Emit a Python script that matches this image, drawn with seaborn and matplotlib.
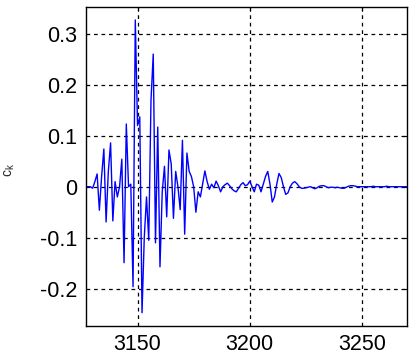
import numpy as np
import pandas as pd
import matplotlib
matplotlib.use("Agg")
import matplotlib.pyplot as plt
import seaborn as sns

# Sample indices and coefficient values c_k
k_start = 3127
ck = [
    0.0, 0.0, 0.0, -0.003, 0.01, 0.025, -0.046, 0.02, 0.074, -0.069,   # 3127-3136
    0.03, 0.086, -0.067, 0.01, -0.02, 0.0, 0.054, -0.149, 0.123, 0.0,  # 3137-3146
    0.005, -0.196, 0.327, 0.12, 0.137, -0.247, -0.1, -0.02, -0.105, 0.17,  # 3147-3156
    0.26, -0.11, 0.117, -0.157, -0.01, 0.04, -0.059, 0.072, 0.045, -0.062,  # 3157-3166
    0.03, 0.0, -0.045, 0.091, -0.093, 0.066, 0.03, 0.02, 0.0, -0.05,  # 3167-3176
    -0.01, -0.02, 0.005, 0.031, 0.01, -0.005, 0.005, -0.002, 0.011, 0.002,  # 3177-3186
    -0.01, 0.0, 0.004, 0.007, 0.002, -0.004, -0.008, -0.01, -0.003, 0.004,  # 3187-3196
    0.008, 0.002, 0.004, 0.011, 0.0, -0.01, 0.005, 0.003, -0.01, 0.005,  # 3197-3206
    0.02, 0.03, 0.005, -0.03, -0.02, 0.005, 0.026, 0.018, 0.0, -0.015,  # 3207-3216
    -0.012, 0.0, 0.007, 0.01, 0.006, 0.0, -0.003, -0.003, -0.002, -0.001,  # 3217-3226
    0.0, -0.002, -0.004, -0.002, 0.001, 0.002, 0.002, 0.0, -0.002, -0.001,  # 3227-3236
    -0.001, -0.002, -0.001, -0.002, -0.003, -0.003, -0.001, 0.001, 0.002, 0.002,  # 3237-3246
    0.001, 0.0, 0.0, 0.0, 0.0, 0.0, 0.0, 0.0, 0.001, 0.0,  # 3247-3256
    0.0, 0.0, 0.0, 0.0, 0.001, 0.0, 0.0, 0.0, 0.0, 0.0,  # 3257-3266
    0.0, 0.0, 0.0, 0.0,  # 3267-3270
]
k = list(range(k_start, k_start + len(ck)))

x_ticks = [3150, 3200, 3250]
y_ticks = [-0.2, -0.1, 0, 0.1, 0.2, 0.3]
y_tick_labels = ["-0.2", "-0.1", "0", "0.1", "0.2", "0.3"]

df = pd.DataFrame({"k": k, "ck": ck})

sns.set_theme(style="white")
plt.rcParams["font.family"] = ["Liberation Sans", "DejaVu Sans"]

fig = plt.figure(figsize=(4.09, 3.59), dpi=100)
ax = fig.add_axes([0.210, 0.092, 0.785, 0.888])

sns.lineplot(data=df, x="k", y="ck", ax=ax, color="#0000ff", linewidth=1.0,
             estimator=None)

ax.set_xlim(3127, 3270)
ax.set_ylim(-0.273, 0.352)
ax.set_xticks(x_ticks)
ax.set_xticklabels([str(t) for t in x_ticks])
ax.set_yticks(y_ticks)
ax.set_yticklabels(y_tick_labels)

ax.grid(True, color="black", linestyle=(0, (3, 3)), linewidth=0.9)
ax.set_axisbelow(True)
for side in ["left", "right", "top", "bottom"]:
    ax.spines[side].set_visible(True)
    ax.spines[side].set_color("black")
    ax.spines[side].set_linewidth(1.0)

ax.tick_params(axis="both", direction="in", length=3, width=0.8,
               labelsize=15.5, colors="black", top=True, right=True,
               pad=6)
ax.set_xlabel("")
ax.set_ylabel(r"$\mathregular{c_k}$", fontsize=10)
ax.yaxis.set_label_coords(-0.215, 0.49)

fig.savefig("out.png", dpi=100, facecolor="white")
